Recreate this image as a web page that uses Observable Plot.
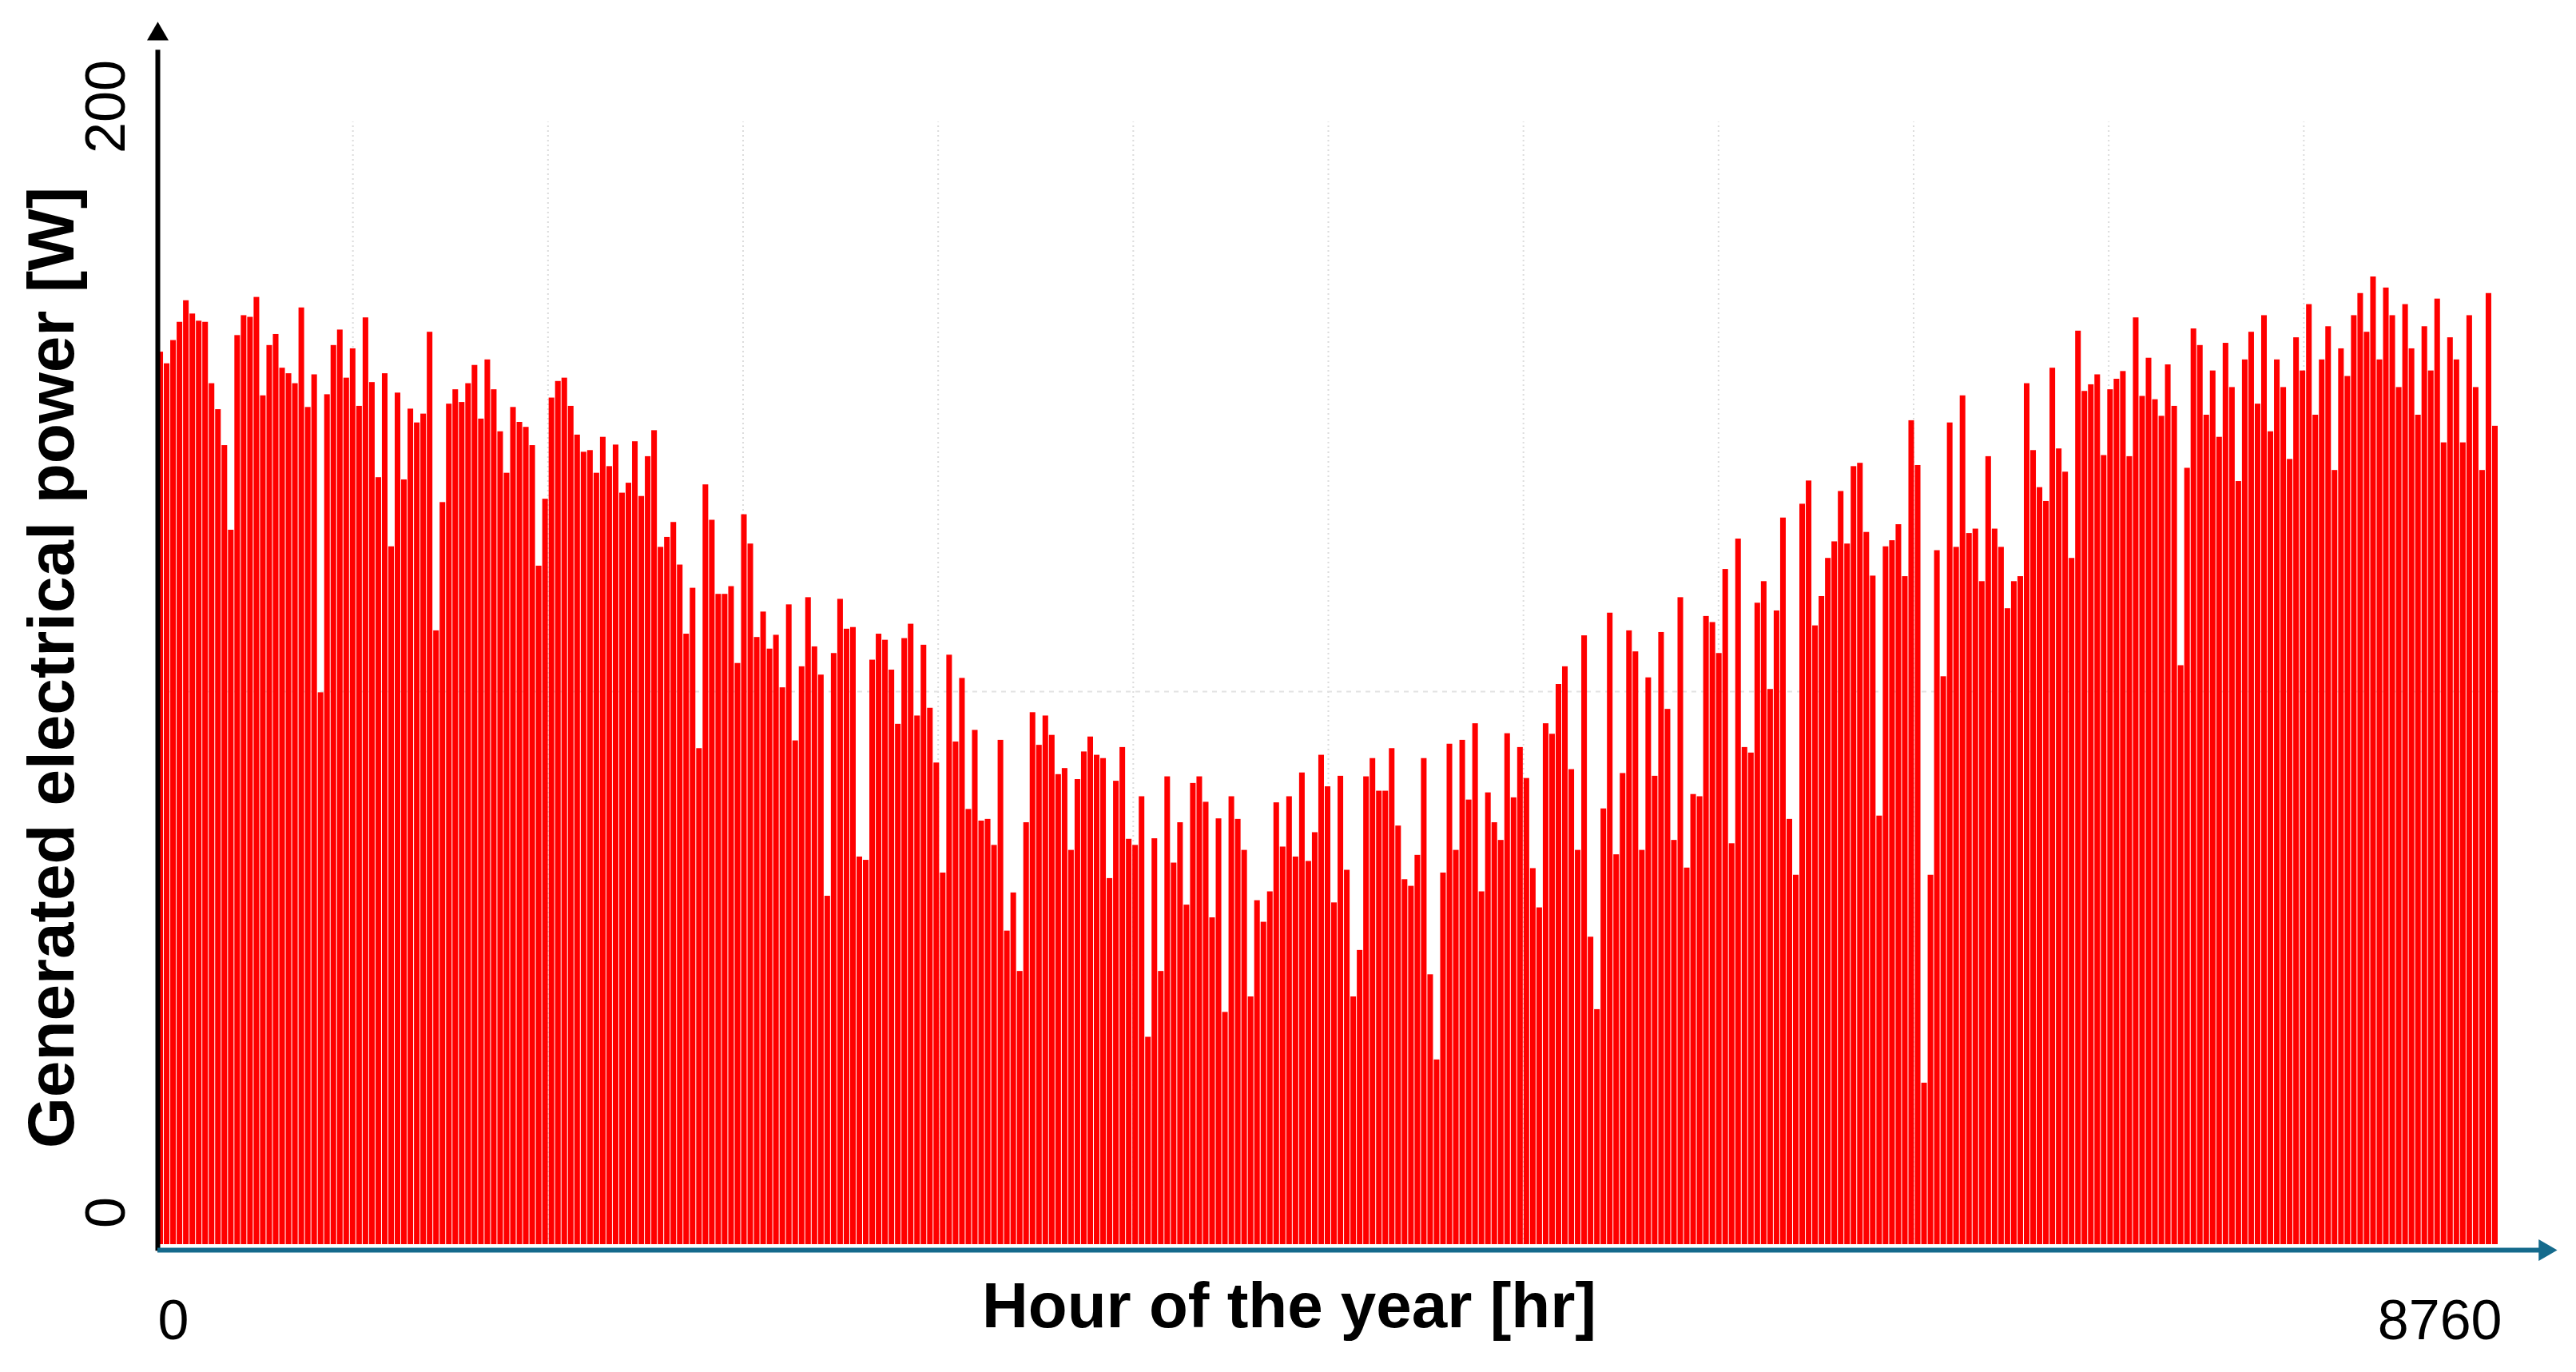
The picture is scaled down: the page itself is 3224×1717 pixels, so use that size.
<!DOCTYPE html>
<html>
<head>
<meta charset="utf-8">
<script src="https://cdn.jsdelivr.net/npm/d3@7"></script>
<script src="https://cdn.jsdelivr.net/npm/@observablehq/plot@0.6"></script>
<style>
  html, body { margin: 0; padding: 0; background: #ffffff; }
  #chart svg { display: block; }
</style>
</head>
<body>
<div id="chart"></div>
<script>
// Daily peak generated power [W], one value per day of the year (day 0 .. 364)
const dailyPeakW = [
  161.4,159.3,163.5,166.8,170.7,168.3,167.0,166.8,155.7,151.0,
  144.5,129.2,164.4,168.0,167.7,171.3,153.5,162.6,164.6,158.5,
  157.5,155.7,169.4,151.4,157.3,99.8,153.7,162.6,165.4,156.7,
  162.0,151.6,167.6,155.9,138.7,157.5,126.2,154.0,138.3,151.1,
  148.6,150.2,165.0,111.0,134.2,152.0,154.6,152.3,155.7,159.0,
  149.3,160.0,154.6,147.0,139.5,151.4,148.7,147.8,144.5,122.7,
  134.8,153.1,156.1,156.7,151.6,146.4,143.3,143.6,139.5,146.0,
  140.7,144.6,135.9,137.7,145.2,135.3,142.5,147.2,126.1,127.9,
  130.6,122.9,110.4,118.7,89.7,137.4,131.0,117.6,117.6,119.0,
  105.1,132.0,126.7,109.8,114.4,107.7,110.2,100.7,115.7,91.1,
  104.5,117.0,108.1,103.0,63.0,106.9,116.7,111.3,111.6,70.1,
  69.5,105.7,110.4,109.3,103.9,94.1,109.6,112.2,95.6,108.4,
  97.0,87.1,67.2,106.6,90.9,102.4,78.7,93.0,76.6,76.9,
  72.2,91.2,56.7,63.6,49.4,76.3,96.2,90.3,95.6,92.1,
  85.0,86.1,71.3,84.1,89.1,91.8,88.5,87.9,66.2,83.8,
  89.9,73.3,72.2,81.0,37.5,73.4,49.4,84.6,69.0,76.3,
  61.4,83.4,84.6,80.0,59.1,77.0,42.0,81.0,76.9,71.3,
  44.8,62.2,58.3,63.8,79.9,71.9,81.0,70.1,85.3,69.3,
  74.5,88.5,82.8,61.8,84.7,67.7,44.8,53.2,84.6,87.9,
  82.0,82.0,89.7,75.7,66.0,64.8,70.4,87.9,48.8,33.4,
  67.2,90.5,71.3,91.2,80.4,94.2,63.8,81.7,76.3,73.1,
  92.4,80.8,89.9,84.3,68.0,60.9,94.2,92.3,101.3,104.5,
  85.9,71.3,110.1,55.6,42.5,78.8,114.2,70.5,85.2,111.0,
  107.2,71.3,102.5,84.7,110.7,96.8,73.1,117.0,68.1,81.4,
  81.0,113.6,112.5,106.9,122.1,72.5,127.6,89.9,88.9,116.0,
  119.9,100.4,114.6,131.4,76.9,66.8,133.9,138.1,111.9,117.2,
  124.1,127.1,136.2,126.7,140.7,141.3,128.8,120.9,77.5,126.2,
  127.3,130.2,120.8,149.0,140.9,29.2,66.8,125.5,102.7,148.6,
  126.1,153.5,128.6,129.4,119.9,142.5,129.4,126.1,115.0,119.9,
  120.8,155.7,143.6,136.9,134.4,158.5,143.9,139.7,124.1,165.2,
  154.3,155.5,157.3,142.7,154.6,156.5,157.9,142.5,167.6,153.4,
  160.3,152.8,149.8,159.1,151.6,104.7,140.4,165.6,162.6,150.0,
  158.0,146.0,163.0,155.0,138.0,160.0,165.0,152.0,168.0,147.0,
  160.0,155.0,142.0,164.0,158.0,170.0,150.0,160.0,166.0,140.0,
  162.0,157.0,168.0,172.0,165.0,175.0,160.0,173.0,168.0,155.0,
  170.0,162.0,150.0,166.0,158.0,171.0,145.0,164.0,160.0,145.0,
  168.0,155.0,140.0,172.0,148.0
];

const hoursPerDay = 24;
const xTickHours  = [0, 8760];
const xTickLabels = ["0", "8760"];
const yTickValues = [0, 200];
const yTickLabels = ["0", "200"];
const gridHours   = [730, 1460, 2190, 2920, 3650, 4380, 5110, 5840, 6570, 7300, 8030];
const gridWatts   = [100];
const xTitle = "Hour of the year [hr]";
const yTitle = "Generated electrical power [W]";

const days = dailyPeakW.map((p, i) => ({h0: i * hoursPerDay, h1: (i + 1) * hoursPerDay, peak: p}));

const FONT = "'Liberation Sans', Arial, Helvetica, sans-serif";
const RED = "#ff0000";
const TEAL = "#146a8c";

const chart = Plot.plot({
  width: 3224,
  height: 1717,
  marginLeft: 197,
  marginRight: 97,
  marginTop: 173,
  marginBottom: 160,
  style: {background: "#ffffff", fontFamily: FONT, overflow: "visible"},
  x: {domain: [0, 8760], axis: null},
  y: {domain: [0, 200], axis: null},
  marks: [
    Plot.ruleX(gridHours, {x: d => d, y1: 0, y2: 203, stroke: "#dcdcdc", strokeWidth: 2, strokeDasharray: "2,4"}),
    Plot.ruleY(gridWatts, {y: d => d, x1: 0, x2: 8760, stroke: "#e2e2e2", strokeWidth: 2, strokeDasharray: "6,6"}),
    Plot.rectY(days, {x1: "h0", x2: "h1", y: "peak", fill: RED, insetRight: 1}),
    // y axis (black) with arrow head
    Plot.ruleX([0], {x: d => d, y1: -1.2, y2: 216, stroke: "#000000", strokeWidth: 6}),
    Plot.dot([0], {x: d => d, y: 218.9, symbol: "triangle", r: 10, fill: "#000000", stroke: null}),
    // x axis (teal) with arrow head
    Plot.ruleY([0], {y: d => d, x1: 0, x2: 8925, stroke: TEAL, strokeWidth: 6, dy: 7}),
    Plot.dot([0], {x: 8932, y: d => d, symbol: "triangle", rotate: 90, r: 10, fill: TEAL, stroke: null, dy: 7}),
    // x tick labels
    Plot.text([xTickHours[0]], {x: d => d, y: 0, text: () => xTickLabels[0], textAnchor: "start", lineAnchor: "middle", dy: 96, fontSize: 70, fill: "#000"}),
    Plot.text([xTickHours[1]], {x: d => d, y: 0, text: () => xTickLabels[1], textAnchor: "end", lineAnchor: "middle", dx: 4, dy: 96, fontSize: 70, fill: "#000"}),
    // y tick labels (rotated)
    Plot.text(yTickValues, {x: 0, y: d => d, text: (d, i) => yTickLabels[i], rotate: -90, textAnchor: "middle", lineAnchor: "middle", dx: -64, dy: -40, fontSize: 70, fill: "#000"}),
    // axis titles
    Plot.text([xTitle], {frameAnchor: "bottom", text: d => d, textAnchor: "middle", lineAnchor: "middle", dx: -49, dy: 78, fontSize: 80, fontWeight: "bold", fill: "#000"}),
    Plot.text([yTitle], {frameAnchor: "left", text: d => d, rotate: -90, textAnchor: "middle", lineAnchor: "middle", dx: -132, dy: -30, fontSize: 82, fontWeight: "bold", fill: "#000"})
  ]
});

document.getElementById("chart").appendChild(chart);
</script>
</body>
</html>
